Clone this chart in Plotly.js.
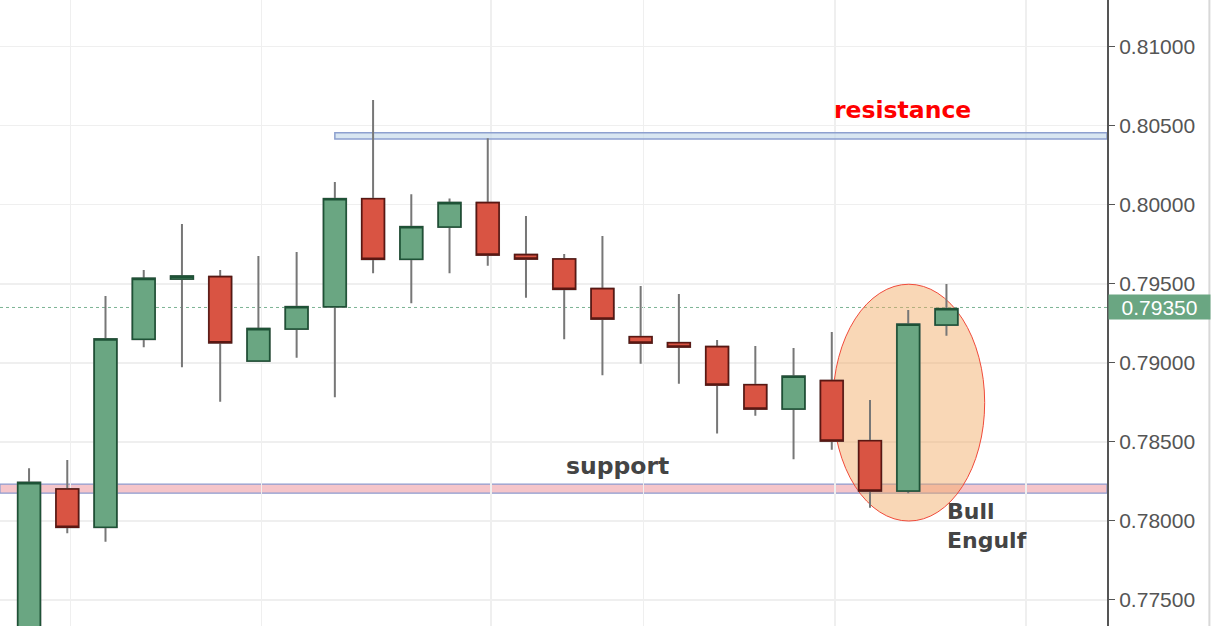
<!DOCTYPE html>
<html>
<head>
<meta charset="utf-8">
<script src="https://cdn.plot.ly/plotly-3.0.1.min.js"></script>
<style>html,body{margin:0;padding:0;background:#fff;}#chart{width:1212px;height:626px;}</style>
</head>
<body>
<div id="chart"></div>
<script>
// candle index (sessions)
const idx = [0,1,2,3,4,5,6,7,8,9,10,11,12,13,14,15,16,17,18,19,20,21,22,23,24];
const opens  = [0.77200,0.78202,0.77960,0.79149,0.79530,0.79545,0.79011,0.79214,0.79355,0.80038,0.79655,0.79859,0.80013,0.79684,0.79657,0.79469,0.79165,0.79127,0.79102,0.78861,0.78708,0.78887,0.78507,0.78189,0.79239];
const highs  = [0.78333,0.78385,0.79423,0.79587,0.79878,0.79587,0.79676,0.79701,0.80144,0.80662,0.80066,0.80040,0.80420,0.79929,0.79688,0.79802,0.79486,0.79435,0.79144,0.79106,0.79094,0.79195,0.78765,0.79334,0.79498];
const lows   = [0.77100,0.77922,0.77868,0.79098,0.78972,0.78754,0.79010,0.79032,0.78782,0.79566,0.79376,0.79566,0.79614,0.79412,0.79149,0.78921,0.78994,0.78868,0.78552,0.78665,0.78390,0.78450,0.78083,0.78175,0.79171];
const closes = [0.78242,0.77960,0.79151,0.79534,0.79548,0.79127,0.79216,0.79355,0.80038,0.79655,0.79861,0.80013,0.79682,0.79657,0.79465,0.79277,0.79125,0.79100,0.78860,0.78708,0.78915,0.78505,0.78189,0.79244,0.79342];
const yTicks = [0.775,0.780,0.785,0.790,0.795,0.800,0.805,0.810];
const gridX = [1.08,6.08,12.08,16.08,21.08,26.08];
const lastPrice = 0.79350;
const resistance = [0.80415,0.80455];
const support = [0.78175,0.78233];
const pattern = {x:[21.03,25.0], y:[0.77999,0.79497]};

const GREEN='#6aa682', GREEN_D='#1e5236', RED='#d95443', RED_D='#5a1712';

const bodyHigh = opens.map((o,i)=>Math.max(o,closes[i]));
const bodyLow  = opens.map((o,i)=>Math.min(o,closes[i]));

const wicks = {
  type:'candlestick', x:idx, open:opens, high:highs, low:lows, close:closes,
  increasing:{line:{color:'#777777',width:2},fillcolor:'rgba(0,0,0,0)'},
  decreasing:{line:{color:'#777777',width:2},fillcolor:'rgba(0,0,0,0)'},
  whiskerwidth:0, hoverinfo:'skip', showlegend:false
};
const bodies = {
  type:'candlestick', x:idx, open:opens, high:bodyHigh, low:bodyLow, close:closes,
  increasing:{line:{color:GREEN_D,width:1.6},fillcolor:GREEN},
  decreasing:{line:{color:RED_D,width:1.6},fillcolor:RED},
  whiskerwidth:0, showlegend:false
};

const layout = {
  width:1212, height:626,
  margin:{l:0,r:105,t:0,b:0,pad:0},
  paper_bgcolor:'#ffffff', plot_bgcolor:'#ffffff',
  showlegend:false, boxgap:0.41, boxgroupgap:0,
  xaxis:{range:[-0.76,28.2], showticklabels:false, tickmode:'array', tickvals:gridX,
         showgrid:true, gridcolor:'#efefef', gridwidth:1.5, zeroline:false,
         rangeslider:{visible:false}, fixedrange:true, ticks:''},
  yaxis:{range:[0.77335,0.81295], side:'right', tickmode:'array', tickvals:yTicks,
         ticktext:yTicks.map(v=>v.toFixed(5)), showgrid:true, gridcolor:'#efefef', gridwidth:1.5,
         zeroline:false, showline:true, linecolor:'#555555', linewidth:2,
         ticks:'outside', ticklen:6, tickcolor:'#555555', tickwidth:1,
         tickfont:{family:'Liberation Sans, Arial, sans-serif', size:21, color:'#555555'}, fixedrange:true},
  shapes:[
    {type:'circle', layer:'between', xref:'x', yref:'y', x0:pattern.x[0], x1:pattern.x[1], y0:pattern.y[0], y1:pattern.y[1],
     fillcolor:'rgba(243,170,100,0.47)', line:{color:'#f04a3a', width:1}},
    {type:'rect', layer:'between', xref:'x', yref:'y', x0:8, x1:28.2, y0:resistance[0], y1:resistance[1],
     fillcolor:'rgba(200,220,235,0.7)', line:{color:'#8da0cf', width:1.5}},
    {type:'rect', layer:'between', xref:'paper', yref:'y', x0:0, x1:1, y0:support[0], y1:support[1],
     fillcolor:'rgba(235,140,150,0.5)', line:{color:'#8d9ccf', width:1.2}},
    {type:'line', layer:'between', xref:'paper', yref:'y', x0:0, x1:1, y0:lastPrice, y1:lastPrice,
     line:{color:'rgba(90,160,120,0.8)', width:1, dash:'dot'}},
    {type:'line', xref:'paper', yref:'paper', x0:1.0925, x1:1.0925, y0:0, y1:1,
     line:{color:'#d8d8d8', width:2}}
  ],
  annotations:[
    {xref:'x', yref:'y', x:22.85, y:0.80598, text:'<b>resistance</b>', showarrow:false,
     font:{family:'DejaVu Sans, Verdana, sans-serif', size:23.5, color:'#ff0000'}},
    {xref:'x', yref:'y', x:15.4, y:0.78350, text:'<b>support</b>', showarrow:false,
     font:{family:'DejaVu Sans, Verdana, sans-serif', size:23.5, color:'#444444'}},
    {xref:'x', yref:'y', x:23.95, y:0.77968, xanchor:'left', yanchor:'middle', align:'left',
     text:'<b>Bull<br>Engulf</b>', showarrow:false,
     font:{family:'DejaVu Sans, Verdana, sans-serif', size:22, color:'#444444'}},
    {xref:'paper', yref:'y', x:1, y:lastPrice, xanchor:'left', yanchor:'middle', text:'0.79350', showarrow:false,
     bgcolor:GREEN, width:101, height:24, borderpad:0, xshift:1,
     font:{family:'Liberation Sans, Arial, sans-serif', size:21, color:'#ffffff'}}
  ]
};

Plotly.newPlot('chart',[wicks,bodies],layout,{displayModeBar:false,staticPlot:true});
</script>
</body>
</html>
